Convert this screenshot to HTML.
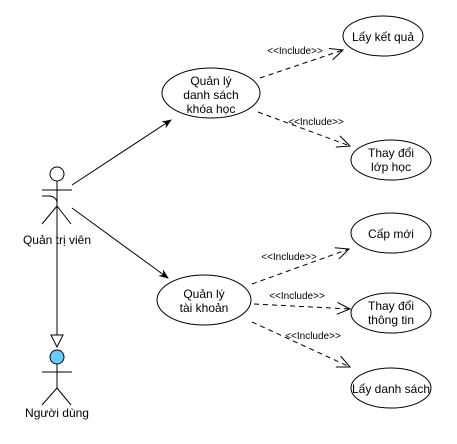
<!DOCTYPE html>
<html><head><meta charset="utf-8"><style>
html,body{margin:0;padding:0;background:#fff;}
svg text{font-family:"Liberation Sans",sans-serif;fill:#000;}
</style></head><body>
<svg width="457" height="439" viewBox="0 0 457 439" xmlns="http://www.w3.org/2000/svg">
<defs>
<marker id="fa" markerWidth="10" markerHeight="10" refX="9" refY="5" orient="auto" markerUnits="userSpaceOnUse"><path d="M0,1 L10,5 L0,9 L3,5 Z" fill="#000"/></marker>
<marker id="oa" markerWidth="14" markerHeight="14" refX="13" refY="7" orient="auto" markerUnits="userSpaceOnUse"><path d="M0,1 L13,7 L0,13" fill="none" stroke="#000"/></marker>
</defs>
<g stroke="#000" fill="none" stroke-width="1">
<!-- actor 1 -->
<circle cx="57" cy="174" r="7" fill="#fff"/>
<line x1="42" y1="190" x2="72" y2="190"/>
<path d="M42,196 L50,196 Q56,197 57,202"/>
<line x1="57" y1="181" x2="57" y2="335"/>
<line x1="57" y1="206" x2="42" y2="224"/>
<line x1="57" y1="206" x2="71" y2="224"/>
<!-- generalization -->
<path d="M51,335 L63,335 L57,347 Z" fill="#fff"/>
<!-- actor 2 -->
<circle cx="57" cy="357" r="7" fill="#66ccff"/>
<line x1="57" y1="364" x2="57" y2="388"/>
<line x1="42" y1="372" x2="72" y2="372"/>
<line x1="57" y1="388" x2="42" y2="405"/>
<line x1="57" y1="388" x2="71" y2="405"/>
<!-- associations -->
<line x1="72" y1="185" x2="171" y2="120" marker-end="url(#fa)"/>
<line x1="72" y1="208" x2="168" y2="278" marker-end="url(#fa)"/>
<!-- ellipses -->
<ellipse cx="211" cy="93" rx="49" ry="25"/>
<ellipse cx="383" cy="36" rx="40" ry="20"/>
<ellipse cx="391" cy="160" rx="40" ry="20"/>
<ellipse cx="204" cy="300" rx="47" ry="25"/>
<ellipse cx="391" cy="233" rx="40" ry="20"/>
<ellipse cx="391" cy="313" rx="40" ry="20"/>
<ellipse cx="391" cy="388" rx="40" ry="20"/>
<!-- includes -->
<g stroke-dasharray="5,4">
<line x1="260" y1="78" x2="343" y2="50" marker-end="url(#oa)"/>
<line x1="258" y1="112" x2="350" y2="146" marker-end="url(#oa)"/>
<line x1="252" y1="284" x2="349" y2="249" marker-end="url(#oa)"/>
<line x1="254" y1="304" x2="350" y2="309" marker-end="url(#oa)"/>
<line x1="252" y1="322" x2="350" y2="367" marker-end="url(#oa)"/>
</g>
</g>
<g font-size="12" text-anchor="middle">
<text x="57" y="244">Quản trị viên</text>
<text x="57" y="417">Người dùng</text>
<text x="211" y="85">Quản lý</text>
<text x="211" y="99">danh sách</text>
<text x="211" y="113">khóa học</text>
<text x="383" y="41">Lấy kết quả</text>
<text x="391" y="157">Thay đổi</text>
<text x="391" y="171">lớp học</text>
<text x="204" y="298">Quản lý</text>
<text x="204" y="312">tài khoản</text>
<text x="391" y="238">Cấp mới</text>
<text x="391" y="310">Thay đổi</text>
<text x="391" y="324">thông tin</text>
<text x="391" y="393">Lấy danh sách</text>
</g>
<g font-size="10" text-anchor="middle">
<text x="295" y="54">&lt;&lt;Include&gt;&gt;</text>
<text x="316" y="125">&lt;&lt;Include&gt;&gt;</text>
<text x="289" y="260">&lt;&lt;Include&gt;&gt;</text>
<text x="297" y="299">&lt;&lt;Include&gt;&gt;</text>
<text x="313" y="339">&lt;&lt;Include&gt;&gt;</text>
</g>
</svg>
</body></html>
